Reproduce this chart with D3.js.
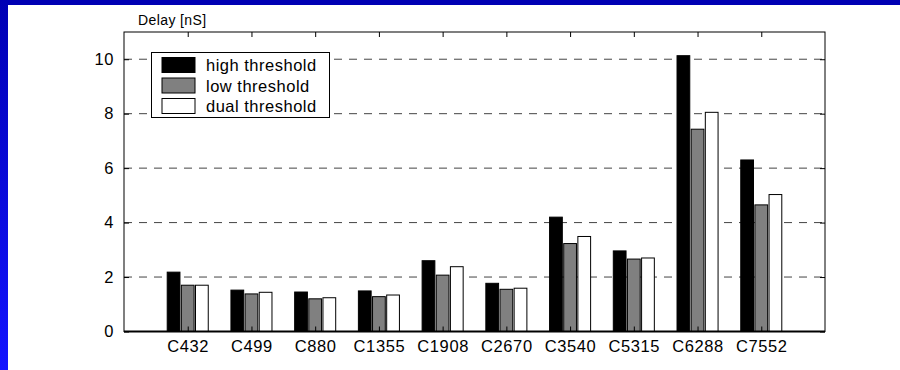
<!DOCTYPE html>
<html>
<head>
<meta charset="utf-8">
<script src="https://cdn.jsdelivr.net/npm/d3@7/dist/d3.min.js"></script>
<style>
	body{margin:0;padding:0;background:#fff;}
	svg text{font-family:"Liberation Sans", Arial, sans-serif;fill:#000;}
</style>
</head>
<body>
<div id="chart"></div>
<script>
var categories=["C432","C499","C880","C1355","C1908","C2670","C3540","C5315","C6288","C7552"];
var seriesNames=["high threshold","low threshold","dual threshold"];
var highVals=[2.18,1.52,1.45,1.49,2.60,1.77,4.20,2.96,10.13,6.30];
var lowVals=[1.70,1.38,1.20,1.28,2.07,1.55,3.23,2.66,7.43,4.65];
var dualVals=[1.70,1.44,1.24,1.34,2.38,1.59,3.49,2.70,8.05,5.03];
var yTicks=[0,2,4,6,8,10];

var W=900, H=370;
var pLeft=124, pRight=825, pTop=32, pBottom=331.5;
var fills=["#000000","#808080","#ffffff"];
var series=[highVals,lowVals,dualVals];

var svg=d3.select("#chart").append("svg").attr("width",W).attr("height",H);

// blue frame
var grad=svg.append("defs").append("linearGradient").attr("id","lg")
	.attr("x1",0).attr("y1",0).attr("x2",0).attr("y2",1);
grad.append("stop").attr("offset","0%").attr("stop-color","#0000b4");
grad.append("stop").attr("offset","100%").attr("stop-color","#1414ff");
svg.append("rect").attr("x",0).attr("y",0).attr("width",W).attr("height",5).attr("fill","#0000b4");
svg.append("rect").attr("x",0).attr("y",0).attr("width",8).attr("height",H).attr("fill","url(#lg)");

var x=d3.scaleLinear().domain([0,categories.length+1]).range([pLeft,pRight]);
var y=d3.scaleLinear().domain([0,11]).range([pBottom,pTop]);
var unit=x(1)-x(0);

// grid
svg.selectAll("line.grid").data(yTicks.filter(function(d){return d>0;})).enter().append("line")
	.attr("class","grid")
	.attr("x1",pLeft).attr("x2",pRight)
	.attr("y1",function(d){return y(d);}).attr("y2",function(d){return y(d);})
	.attr("stroke","#444").attr("stroke-width",1).attr("stroke-dasharray","8,7");

// bars
var g=svg.append("g");
series.forEach(function(vals,s){
	g.selectAll("rect.s"+s).data(vals).enter().append("rect")
		.attr("class","s"+s)
		.attr("x",function(d,i){return x(i+1+(s-1)*0.222)-unit*0.1;})
		.attr("width",unit*0.2)
		.attr("y",function(d){return y(d);})
		.attr("height",function(d){return pBottom-y(d);})
		.attr("fill",fills[s]).attr("stroke","#000").attr("stroke-width",1);
});

// box
svg.append("rect").attr("x",pLeft).attr("y",pTop).attr("width",pRight-pLeft).attr("height",pBottom-pTop)
	.attr("fill","none").attr("stroke","#000").attr("stroke-width",1);
svg.append("line").attr("x1",pLeft).attr("x2",pRight).attr("y1",pBottom).attr("y2",pBottom)
	.attr("stroke","#000").attr("stroke-width",2);

// axes
var yAxisL=d3.axisLeft(y).tickValues(yTicks).tickSize(-5).tickPadding(10);
var yAxisR=d3.axisRight(y).tickValues(yTicks).tickSize(-5).tickFormat("");
var xAxisB=d3.axisBottom(x).tickValues(d3.range(1,categories.length+1)).tickSize(-5).tickPadding(9)
	.tickFormat(function(d){return categories[d-1];});
var xAxisT=d3.axisTop(x).tickValues(d3.range(1,categories.length+1)).tickSize(-5).tickFormat("");

function styleAxis(sel){
	sel.select(".domain").remove();
	sel.selectAll("line").attr("stroke","#000");
	sel.selectAll("text").attr("font-size",16.5).style("letter-spacing","0.6px");
}
svg.append("g").attr("transform","translate("+pLeft+",0)").call(yAxisL).call(styleAxis);
svg.append("g").attr("transform","translate("+pRight+",0)").call(yAxisR).call(styleAxis);
svg.append("g").attr("transform","translate(0,"+pBottom+")").call(xAxisB).call(styleAxis);
svg.append("g").attr("transform","translate(0,"+pTop+")").call(xAxisT).call(styleAxis);

// y label
svg.append("text").attr("x",138).attr("y",25).attr("font-size",14).style("letter-spacing","0.4px").text("Delay [nS]");

// legend
var lg=svg.append("g");
lg.append("rect").attr("x",151.5).attr("y",52.5).attr("width",178).attr("height",65)
	.attr("fill","#fff").attr("stroke","#000").attr("stroke-width",1);
seriesNames.forEach(function(n,i){
	lg.append("rect").attr("x",162).attr("y",57.5+i*20.5).attr("width",33).attr("height",15)
		.attr("fill",fills[i]).attr("stroke","#000").attr("stroke-width",1);
	lg.append("text").attr("x",206).attr("y",71+i*20.5).attr("font-size",16.5).style("letter-spacing","0.5px").text(n);
});
</script>
</body>
</html>
